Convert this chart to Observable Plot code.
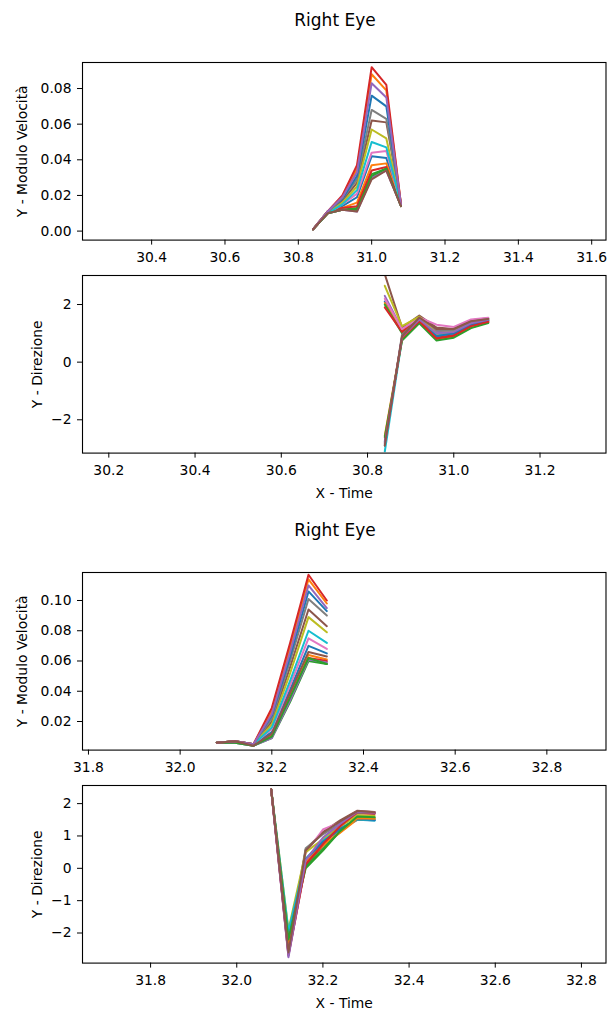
<!DOCTYPE html>
<html><head><meta charset="utf-8">
<script src="https://cdn.jsdelivr.net/npm/d3@7"></script>
<script src="https://cdn.jsdelivr.net/npm/@observablehq/plot@0.6"></script>
<style>
html,body{margin:0;padding:0;background:#fff;}
#root{position:relative;width:607px;height:1012px;overflow:hidden;font-family:"DejaVu Sans",sans-serif;}
.title{position:absolute;font-size:17px;line-height:20px;white-space:nowrap;transform:translateX(-50%);color:#000;}
.panel{position:absolute;left:0;}
</style></head><body><div id="root"></div>
<script>
// ---------- data ----------
const titles = ["Right Eye", "Right Eye"];
const velLabel = "Y - Modulo Velocità";
const dirLabel = "Y - Direzione";
const timeLabel = "X - Time";

const time1 = [30.84, 30.88, 30.92, 30.96, 31.00, 31.04, 31.08];
const time2 = [32.08, 32.12, 32.16, 32.20, 32.24, 32.28, 32.32];

// series 0..15 (colour = tab10[i % 10]), drawn in order
const vel1 = [
  [0.001, 0.010, 0.014, 0.019, 0.042, 0.041, 0.015],
  [0.001, 0.010, 0.013, 0.016, 0.037, 0.038, 0.015],
  [0.001, 0.010, 0.012, 0.013, 0.032, 0.035, 0.014],
  [0.001, 0.010, 0.013, 0.014, 0.034, 0.036, 0.014],
  [0.001, 0.010, 0.012, 0.011, 0.030, 0.034, 0.014],
  [0.001, 0.010, 0.017, 0.027, 0.062, 0.061, 0.015],
  [0.001, 0.010, 0.015, 0.021, 0.044, 0.045, 0.015],
  [0.001, 0.011, 0.018, 0.029, 0.068, 0.063, 0.015],
  [0.001, 0.010, 0.016, 0.025, 0.057, 0.052, 0.015],
  [0.001, 0.010, 0.015, 0.023, 0.050, 0.047, 0.015],
  [0.001, 0.011, 0.018, 0.031, 0.076, 0.070, 0.015],
  [0.001, 0.011, 0.019, 0.035, 0.088, 0.079, 0.015],
  [0.001, 0.010, 0.012, 0.012, 0.031, 0.035, 0.014],
  [0.001, 0.011, 0.020, 0.037, 0.092, 0.082, 0.015],
  [0.001, 0.011, 0.019, 0.033, 0.083, 0.075, 0.015],
  [0.001, 0.010, 0.012, 0.011, 0.029, 0.034, 0.014]
];

const dir1 = [
  [2.10, 1.05, 1.42, 0.90, 0.98, 1.30, 1.44],
  [2.05, 1.10, 1.50, 0.95, 1.02, 1.33, 1.45],
  [2.00, 1.00, 1.45, 0.80, 0.88, 1.22, 1.38],
  [1.90, 1.05, 1.48, 0.85, 0.94, 1.27, 1.41],
  [2.30, 1.15, 1.52, 1.05, 1.08, 1.38, 1.49],
  [3.05, 1.20, 1.62, 1.20, 1.15, 1.45, 1.52],
  [2.20, 1.15, 1.55, 1.30, 1.22, 1.48, 1.54],
  [-2.90, 0.95, 1.50, 1.10, 1.10, 1.40, 1.50],
  [2.65, 1.25, 1.58, 1.00, 1.05, 1.35, 1.47],
  [-3.10, 0.80, 1.38, 0.92, 1.00, 1.32, 1.44],
  [-2.75, 0.85, 1.40, 0.90, 1.00, 1.30, 1.45],
  [-2.55, 0.80, 1.45, 0.80, 0.90, 1.20, 1.38],
  [-2.60, 0.75, 1.35, 0.75, 0.85, 1.18, 1.36],
  [-2.80, 0.85, 1.42, 0.82, 0.92, 1.25, 1.40],
  [-2.85, 0.88, 1.48, 1.00, 1.05, 1.35, 1.47],
  [-2.90, 0.90, 1.55, 1.15, 1.15, 1.42, 1.50]
];

const vel2 = [
  [0.006, 0.007, 0.005, 0.013, 0.041, 0.070, 0.065],
  [0.006, 0.007, 0.004, 0.011, 0.037, 0.064, 0.061],
  [0.006, 0.006, 0.004, 0.009, 0.033, 0.060, 0.058],
  [0.006, 0.007, 0.004, 0.010, 0.035, 0.062, 0.060],
  [0.006, 0.006, 0.004, 0.009, 0.034, 0.061, 0.059],
  [0.006, 0.007, 0.005, 0.020, 0.056, 0.094, 0.083],
  [0.006, 0.007, 0.005, 0.015, 0.044, 0.075, 0.068],
  [0.006, 0.007, 0.005, 0.022, 0.060, 0.101, 0.090],
  [0.006, 0.007, 0.005, 0.018, 0.052, 0.089, 0.079],
  [0.006, 0.007, 0.005, 0.016, 0.047, 0.080, 0.072],
  [0.006, 0.007, 0.005, 0.024, 0.063, 0.106, 0.093],
  [0.006, 0.007, 0.005, 0.027, 0.069, 0.114, 0.098],
  [0.006, 0.006, 0.004, 0.010, 0.036, 0.062, 0.058],
  [0.006, 0.007, 0.005, 0.029, 0.072, 0.117, 0.100],
  [0.006, 0.007, 0.005, 0.025, 0.066, 0.110, 0.095],
  [0.006, 0.007, 0.004, 0.012, 0.039, 0.066, 0.063]
];

const dir2 = [
  [2.42, -2.30, 0.25, 0.80, 1.20, 1.50, 1.48],
  [2.42, -2.35, 0.15, 0.70, 1.10, 1.52, 1.52],
  [2.42, -2.25, 0.00, 0.55, 1.15, 1.58, 1.56],
  [2.42, -2.70, 0.10, 0.70, 1.30, 1.70, 1.68],
  [2.42, -2.75, 0.20, 0.90, 1.35, 1.72, 1.70],
  [2.43, -2.55, 0.58, 1.12, 1.48, 1.78, 1.74],
  [2.43, -2.45, 0.48, 1.20, 1.42, 1.76, 1.73],
  [2.43, -2.40, 0.62, 1.05, 1.38, 1.72, 1.70],
  [2.43, -1.90, 0.50, 0.90, 1.28, 1.64, 1.62],
  [2.43, -1.95, 0.30, 0.85, 1.22, 1.52, 1.48],
  [2.44, -2.20, 0.28, 0.82, 1.22, 1.53, 1.49],
  [2.44, -2.30, 0.18, 0.72, 1.12, 1.55, 1.53],
  [2.44, -2.20, 0.05, 0.60, 1.15, 1.60, 1.58],
  [2.44, -2.65, 0.12, 0.75, 1.30, 1.74, 1.71],
  [2.44, -2.70, 0.25, 0.95, 1.38, 1.75, 1.72],
  [2.45, -2.60, 0.55, 1.10, 1.45, 1.77, 1.73]
];

// tick values and axis ranges
const xTicks1 = [30.4, 30.6, 30.8, 31.0, 31.2, 31.4, 31.6];
const xTicks2 = [30.2, 30.4, 30.6, 30.8, 31.0, 31.2];
const xTicks3 = [31.8, 32.0, 32.2, 32.4, 32.6, 32.8];
const xTicks4 = [31.8, 32.0, 32.2, 32.4, 32.6, 32.8];
const yTicks1 = [0.00, 0.02, 0.04, 0.06, 0.08];
const yTicks2 = [-2, 0, 2];
const yTicks3 = [0.02, 0.04, 0.06, 0.08, 0.10];
const yTicks4 = [-2, -1, 0, 1, 2];
const xRange1 = [30.2115, 31.639];
const xRange2 = [30.139, 31.353];
const xRange3 = [31.787, 32.929];
const xRange4 = [31.642, 32.857];
const yRange1 = [-0.00505, 0.0946];
const yRange2 = [-3.156, 3.007];
const yRange3 = [0.0011, 0.1185];
const yRange4 = [-2.93, 2.56];

const TAB10 = ["#1f77b4","#ff7f0e","#2ca02c","#d62728","#9467bd","#8c564b","#e377c2","#7f7f7f","#bcbd22","#17becf"];

// ---------- layout ----------
const FRAME_H = 177.6;
const panels = [
  {x: time1, series: vel1, xDomain: xRange1, yDomain: yRange1, xTicks: xTicks1, yTicks: yTicks1, yFmt: ".2f", yLabel: velLabel, xLabel: null, frameTop: 61.7, labelDx: -55.5},
  {x: time1, series: dir1, xDomain: xRange2, yDomain: yRange2, xTicks: xTicks2, yTicks: yTicks2, yFmt: "d", yLabel: dirLabel, xLabel: timeLabel, frameTop: 274.7, labelDx: -40.5},
  {x: time2, series: vel2, xDomain: xRange3, yDomain: yRange3, xTicks: xTicks3, yTicks: yTicks3, yFmt: ".2f", yLabel: velLabel, xLabel: null, frameTop: 571.7, labelDx: -55.5},
  {x: time2, series: dir2, xDomain: xRange4, yDomain: yRange4, xTicks: xTicks4, yTicks: yTicks4, yFmt: "d", yLabel: dirLabel, xLabel: timeLabel, frameTop: 784.7, labelDx: -40.5}
];

const root = document.getElementById("root");

[25.7, 535.7].forEach((baseline, k) => {
  const t = document.createElement("div");
  t.className = "title";
  t.textContent = titles[k];
  t.style.left = "335px";
  t.style.top = (baseline - 15.8) + "px";
  root.appendChild(t);
});

function makePanel(p) {
  const mt = 10, mb = p.xLabel ? 56 : 36;
  const marks = [];
  p.series.forEach((vals, i) => {
    const rows = vals.map((v, j) => ({t: p.x[j], v}));
    marks.push(Plot.line(rows, {x: "t", y: "v", stroke: TAB10[i % 10], strokeWidth: 2, strokeLinejoin: "round", clip: true}));
  });
  marks.push(Plot.frame({stroke: "#000", strokeWidth: 1.1}));
  marks.push(Plot.axisX({ticks: p.xTicks, tickFormat: d3.format(".1f"), tickSize: 5, tickPadding: 7.5, label: null}));
  marks.push(Plot.axisY({ticks: p.yTicks, tickFormat: d3.format(p.yFmt), tickSize: 5, tickPadding: 6, label: null}));
  marks.push(Plot.text([p.yLabel], {text: d => d, frameAnchor: "left", rotate: -90, dx: p.labelDx, lineAnchor: "bottom", textAnchor: "middle"}));
  if (p.xLabel) marks.push(Plot.text([p.xLabel], {text: d => d, frameAnchor: "bottom", dy: 44.7, lineAnchor: "bottom", textAnchor: "middle"}));
  const chart = Plot.plot({
    width: 607,
    height: mt + FRAME_H + mb,
    marginLeft: 82, marginRight: 1.5, marginTop: mt, marginBottom: mb,
    x: {domain: p.xDomain},
    y: {domain: p.yDomain},
    style: {fontFamily: "DejaVu Sans", fontSize: "13.9px", background: "transparent", color: "#000", overflow: "visible"},
    marks
  });
  chart.classList.add("panel");
  chart.style.position = "absolute";
  chart.style.top = (p.frameTop - mt) + "px";
  chart.style.left = "0px";
  root.appendChild(chart);
}
panels.forEach(makePanel);
</script>
</body></html>
